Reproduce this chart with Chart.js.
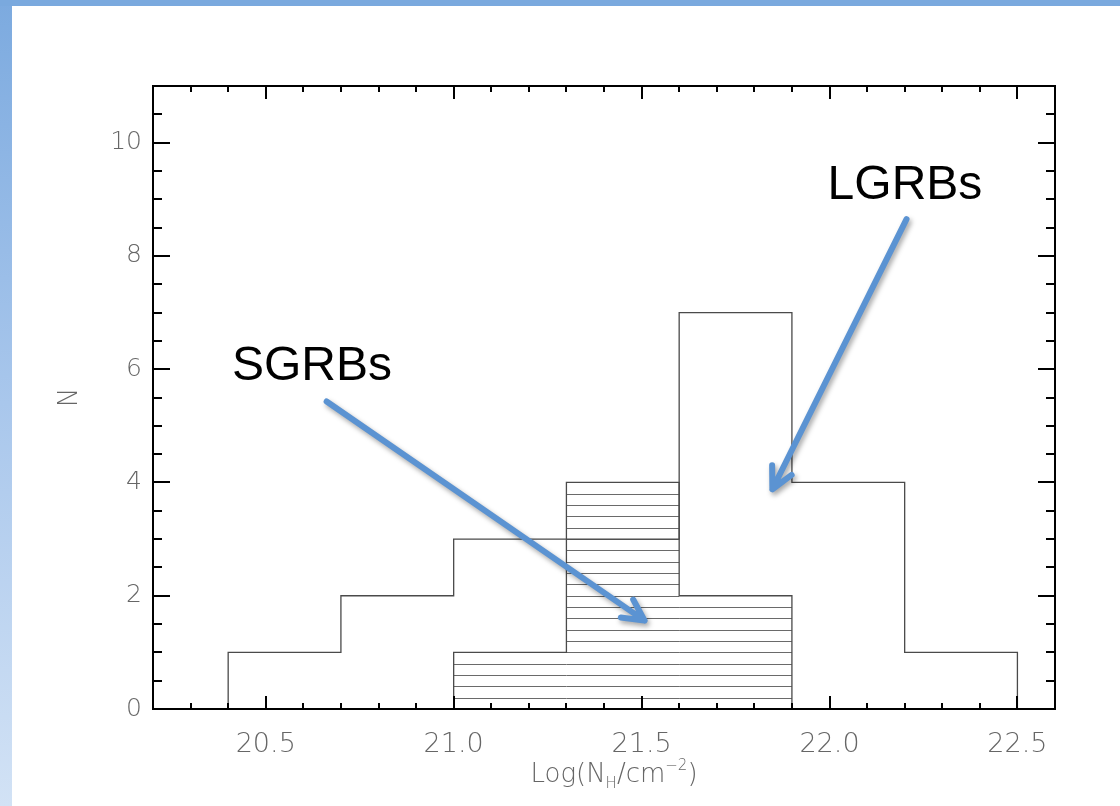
<!DOCTYPE html>
<html>
<head>
<meta charset="utf-8">
<script src="https://cdn.jsdelivr.net/npm/chart.js@4.4.1/dist/chart.umd.min.js"></script>
<style>
  html, body { margin: 0; padding: 0; background: #fff; }
  #wrap { width: 1120px; height: 806px; position: relative; }
</style>
</head>
<body>
<div id="wrap"><canvas id="nhChart"></canvas></div>
<script>
// Column density histograms, bins of 0.3 dex
const binEdges = [20.4, 20.7, 21.0, 21.3, 21.6, 21.9, 22.2, 22.5];
const lgrbCounts = [1, 2, 3, 3, 7, 4, 1];
const sgrbCounts = [0, 0, 1, 4, 2, 0, 0];

const xTickLabels = [20.5, 21.0, 21.5, 22.0, 22.5];
const yTickLabels = [0, 2, 4, 6, 8, 10];

const xRange = [20.2, 22.6];
const yRange = [0, 11];

// labels + arrows, placed in data units
const notes = [
    { text: 'SGRBs', at: [20.41, 5.81], from: [20.662, 5.43], to: [21.508, 1.56] },
    { text: 'LGRBs', at: [21.995, 9.0], from: [22.205, 8.65], to: [21.848, 3.88] }
];

const tickFont = "'DejaVu Sans ExtraLight', 'DejaVu Sans', sans-serif";
const textGray = '#666';
const outlineColor = '#4a4a4a';
const arrowColor = '#5b93d2';

// step outline points for a histogram, trimmed to the non-empty bins
function stepPoints(counts) {
    let first = counts.findIndex(c => c > 0);
    let last = counts.length - 1;
    while (last > first && counts[last] === 0) last--;
    const pts = [{ x: binEdges[first], y: 0 }];
    for (let i = first; i <= last; i++) {
        pts.push({ x: binEdges[i], y: counts[i] });
    }
    pts.push({ x: binEdges[last + 1], y: 0 });
    return pts;
}

const frameBackground = {
    id: 'frameBackground',
    beforeDraw(chart) {
        const ctx = chart.ctx;
        const w = chart.width, h = chart.height;
        ctx.save();
        ctx.fillStyle = '#fff';
        ctx.fillRect(0, 0, w, h);
        const g = ctx.createLinearGradient(0, 0, 0, h);
        g.addColorStop(0, '#7caadf');
        g.addColorStop(0.5, '#a9c7ec');
        g.addColorStop(1, '#d2e2f5');
        ctx.fillStyle = g;
        ctx.fillRect(0, 0, 12, h);
        ctx.fillStyle = '#7aa9de';
        ctx.fillRect(0, 0, w, 6);
        ctx.restore();
    }
};

// horizontal line fill under the SGRB outline
const hatchFill = {
    id: 'hatchFill',
    beforeDatasetsDraw(chart) {
        const { ctx, scales: { x, y } } = chart;
        const step = 0.2;
        ctx.save();
        ctx.strokeStyle = '#6a6a6a';
        ctx.lineWidth = 1;
        sgrbCounts.forEach((c, i) => {
            const n = Math.round(c / step);
            const x0 = x.getPixelForValue(binEdges[i]);
            const x1 = x.getPixelForValue(binEdges[i + 1]);
            for (let k = 1; k < n; k++) {
                const py = Math.round(y.getPixelForValue(k * step)) + 0.5;
                ctx.beginPath();
                ctx.moveTo(x0, py);
                ctx.lineTo(x1, py);
                ctx.stroke();
            }
        });
        ctx.restore();
    }
};

// box frame with inward ticks on all four sides
const boxAxes = {
    id: 'boxAxes',
    afterDatasetsDraw(chart) {
        const { ctx, chartArea: a, scales: { x, y } } = chart;
        ctx.save();
        ctx.strokeStyle = '#000';
        ctx.lineWidth = 2;
        ctx.strokeRect(a.left, a.top, a.right - a.left, a.bottom - a.top);

        ctx.beginPath();
        for (let v = 20.3; v < xRange[1] - 0.01; v += 0.1) {
            const px = Math.round(x.getPixelForValue(v));
            const major = Math.abs(v * 2 - Math.round(v * 2)) < 0.01;
            const len = major ? 13 : 6;
            ctx.moveTo(px, a.bottom); ctx.lineTo(px, a.bottom - len);
            ctx.moveTo(px, a.top); ctx.lineTo(px, a.top + len);
        }
        for (let v = 0.5; v < yRange[1] - 0.01; v += 0.5) {
            const py = Math.round(y.getPixelForValue(v));
            const major = Math.abs(v / 2 - Math.round(v / 2)) < 0.01;
            const len = major ? 17 : 9;
            ctx.moveTo(a.left, py); ctx.lineTo(a.left + len, py);
            ctx.moveTo(a.right, py); ctx.lineTo(a.right - len, py);
        }
        ctx.stroke();
        ctx.restore();
    }
};

function drawArrow(ctx, x0, y0, x1, y1) {
    const ang = Math.atan2(y1 - y0, x1 - x0);
    const spread = 27 * Math.PI / 180;
    const len = 24;
    ctx.beginPath();
    ctx.moveTo(x0, y0);
    ctx.lineTo(x1, y1);
    ctx.moveTo(x1 - len * Math.cos(ang - spread), y1 - len * Math.sin(ang - spread));
    ctx.lineTo(x1, y1);
    ctx.lineTo(x1 - len * Math.cos(ang + spread), y1 - len * Math.sin(ang + spread));
    ctx.stroke();
}

// composite text pieces: [string, size, baseline shift]
function drawRich(ctx, parts, cx, baseline) {
    let total = 0;
    parts.forEach(p => {
        ctx.font = `200 ${p[1]}px ${tickFont}`;
        total += ctx.measureText(p[0]).width;
    });
    let px = cx - total / 2;
    parts.forEach(p => {
        ctx.font = `200 ${p[1]}px ${tickFont}`;
        ctx.fillText(p[0], px, baseline + p[2]);
        px += ctx.measureText(p[0]).width;
    });
}

const overlays = {
    id: 'overlays',
    afterDraw(chart) {
        const { ctx, chartArea: a, scales: { x, y } } = chart;
        ctx.save();

        // axis titles
        ctx.fillStyle = textGray;
        ctx.textAlign = 'left';
        ctx.textBaseline = 'alphabetic';
        drawRich(ctx, [
            ['Log(N', 26, 0], ['H', 15, 6], ['/cm', 26, 0], ['\u22122', 15, -12], [')', 26, 0]
        ], (a.left + a.right) / 2 + 10, 782);

        ctx.save();
        ctx.translate(70, (a.top + a.bottom) / 2);
        ctx.rotate(-Math.PI / 2);
        ctx.textAlign = 'center';
        ctx.textBaseline = 'middle';
        ctx.font = `200 26px ${tickFont}`;
        ctx.fillText('N', 0, 0);
        ctx.restore();

        // arrows
        ctx.strokeStyle = arrowColor;
        ctx.lineWidth = 6;
        ctx.lineCap = 'round';
        ctx.lineJoin = 'round';
        ctx.shadowColor = 'rgba(0,0,0,0.35)';
        ctx.shadowBlur = 5;
        ctx.shadowOffsetX = 2;
        ctx.shadowOffsetY = 3;
        notes.forEach(n => {
            drawArrow(ctx,
                x.getPixelForValue(n.from[0]), y.getPixelForValue(n.from[1]),
                x.getPixelForValue(n.to[0]), y.getPixelForValue(n.to[1]));
        });
        ctx.shadowColor = 'transparent';

        // labels
        ctx.fillStyle = '#000';
        ctx.font = "48px 'Liberation Sans', Arial, sans-serif";
        ctx.textAlign = 'left';
        ctx.textBaseline = 'alphabetic';
        notes.forEach(n => {
            ctx.fillText(n.text, x.getPixelForValue(n.at[0]), y.getPixelForValue(n.at[1]));
        });
        ctx.restore();
    }
};

const ctx = document.getElementById('nhChart').getContext('2d');
new Chart(ctx, {
    type: 'scatter',
    data: {
        datasets: [{
            label: 'LGRBs',
            data: stepPoints(lgrbCounts),
            showLine: true,
            stepped: 'before',
            borderColor: outlineColor,
            borderWidth: 1.3,
            pointRadius: 0,
            fill: false
        }, {
            label: 'SGRBs',
            data: stepPoints(sgrbCounts),
            showLine: true,
            stepped: 'before',
            borderColor: outlineColor,
            borderWidth: 1.3,
            pointRadius: 0,
            fill: false
        }]
    },
    options: {
        responsive: true,
        maintainAspectRatio: false,
        animation: false,
        layout: { padding: { left: 0, top: 86, right: 65, bottom: 0 } },
        plugins: {
            legend: { display: false },
            tooltip: { enabled: false }
        },
        scales: {
            x: {
                type: 'linear',
                min: xRange[0],
                max: xRange[1],
                grid: { display: false, drawTicks: false },
                border: { display: false },
                afterBuildTicks: s => { s.ticks = xTickLabels.map(v => ({ value: v })); },
                afterFit: s => { s.height = 97; },
                ticks: {
                    padding: 20,
                    color: textGray,
                    maxRotation: 0,
                    autoSkip: false,
                    font: { family: tickFont, size: 27, weight: 200 },
                    callback: v => Number(v).toFixed(1)
                }
            },
            y: {
                type: 'linear',
                min: yRange[0],
                max: yRange[1],
                grid: { display: false, drawTicks: false },
                border: { display: false },
                afterBuildTicks: s => { s.ticks = yTickLabels.map(v => ({ value: v })); },
                afterFit: s => { s.width = 153; },
                ticks: {
                    padding: 11,
                    color: textGray,
                    autoSkip: false,
                    font: { family: tickFont, size: 25, weight: 200 },
                    callback: v => String(v)
                }
            }
        }
    },
    plugins: [frameBackground, hatchFill, boxAxes, overlays]
});
</script>
</body>
</html>
